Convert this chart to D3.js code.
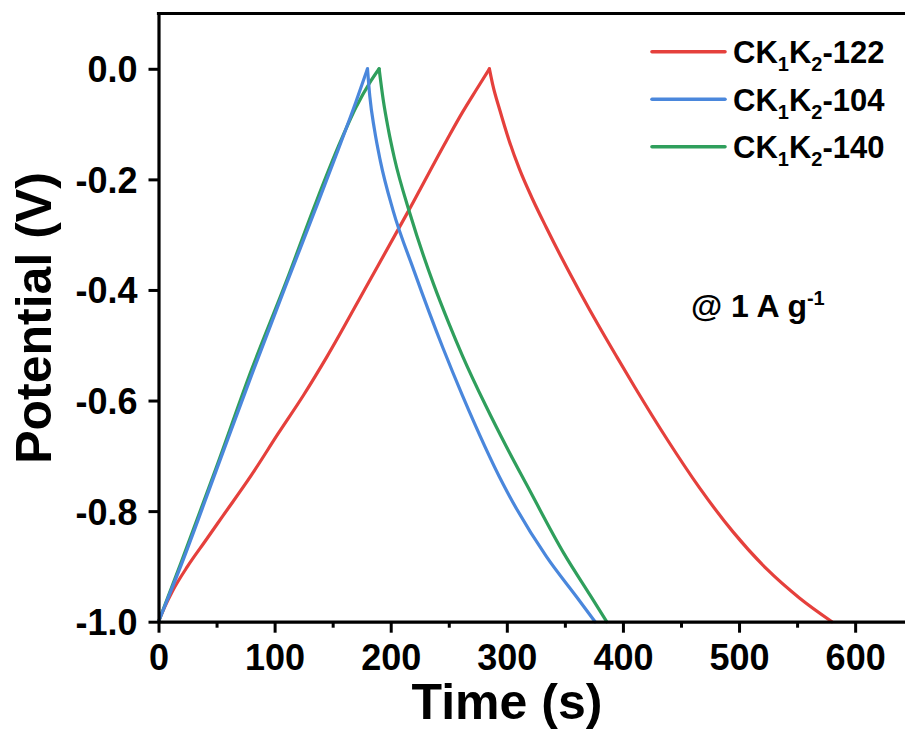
<!DOCTYPE html>
<html>
<head>
<meta charset="utf-8">
<script src="https://cdn.jsdelivr.net/npm/d3@7"></script>
<style>
  body { margin: 0; background: #fff; }
  svg { display: block; font-family: "Liberation Sans", Arial, sans-serif; font-weight: bold; }
</style>
</head>
<body>
<div id="chart"></div>
<script>
// GCD curves: [time (s), potential (V)]
var red122Charge = [[0,-1],[5,-0.975],[12,-0.945],[25,-0.9],[40,-0.855],[55,-0.81],[80,-0.735],[103,-0.66],[125,-0.59],[145,-0.521],[180,-0.39],[214,-0.262],[248,-0.13],[262,-0.078],[274,-0.037],[285,0]];
var red122Discharge = [[285,0],[288,-0.03],[294,-0.075],[302,-0.13],[311,-0.182],[322,-0.235],[334,-0.287],[348,-0.345],[363,-0.404],[380,-0.468],[395,-0.522],[410,-0.575],[438,-0.67],[466,-0.758],[495,-0.838],[524,-0.905],[552,-0.957],[580,-1]];
var blue104Charge = [[0,-1],[20,-0.895],[50,-0.725],[80,-0.555],[110,-0.39],[135,-0.255],[155,-0.145],[170,-0.06],[180,0]];
var blue104Discharge = [[180,0],[182,-0.05],[186,-0.11],[191,-0.166],[202,-0.256],[220,-0.365],[245,-0.505],[262,-0.592],[297,-0.752],[334,-0.882],[360,-0.955],[376,-1]];
var green140Charge = [[0,-1],[20,-0.89],[50,-0.72],[80,-0.545],[110,-0.385],[135,-0.245],[155,-0.14],[170,-0.07],[182,-0.025],[190,0]];
var green140Discharge = [[190,0],[193.6,-0.057],[198,-0.11],[203,-0.16],[217,-0.265],[237,-0.39],[250,-0.46],[262,-0.52],[282,-0.61],[300,-0.685],[317,-0.752],[349,-0.876],[372,-0.953],[386,-1]];

var xTicks = [0, 100, 200, 300, 400, 500, 600];
var xMinor = [50, 150, 250, 350, 450, 550];
var yTicks = [0, -0.2, -0.4, -0.6, -0.8, -1.0];

var series = [
  {name: "122", color: "#e5403c", parts: [red122Charge, red122Discharge]},
  {name: "104", color: "#4a87dc", parts: [blue104Charge, blue104Discharge]},
  {name: "140", color: "#2f9f5c", parts: [green140Charge, green140Discharge]}
];
var drawOrder = [0, 2, 1];

var W = 905, H = 733;
var plotLeft = 158.5, plotRight = 913.2, plotTop = 13.5, plotBottom = 621.7;

var x = d3.scaleLinear().domain([0, 650]).range([plotLeft, plotRight]);
var y = d3.scaleLinear().domain([-1, 0.1]).range([plotBottom, plotTop]);

var svg = d3.select("#chart").append("svg")
  .attr("width", W).attr("height", H)
  .style("overflow", "hidden");

var line = d3.line()
  .x(function(d) { return x(d[0]); })
  .y(function(d) { return y(d[1]); })
  .curve(d3.curveMonotoneX);

drawOrder.forEach(function(i) {
  var s = series[i];
  s.parts.forEach(function(p) {
    svg.append("path")
      .attr("d", line(p))
      .attr("fill", "none")
      .attr("stroke", s.color)
      .attr("stroke-width", 3.2)
      .attr("stroke-linejoin", "round")
      .attr("stroke-linecap", "round");
  });
});

// axes
var xAxis = svg.append("g")
  .attr("transform", "translate(0," + plotBottom + ")")
  .call(d3.axisBottom(x).tickValues(xTicks).tickSize(11).tickSizeOuter(0).tickPadding(12)
    .tickFormat(d3.format("d")));
var xMinorAxis = svg.append("g")
  .attr("transform", "translate(0," + plotBottom + ")")
  .call(d3.axisBottom(x).tickValues(xMinor).tickSize(6).tickSizeOuter(0).tickFormat(""));
xMinorAxis.select(".domain").remove();

var yAxis = svg.append("g")
  .attr("transform", "translate(" + plotLeft + ",0)")
  .call(d3.axisLeft(y).tickValues(yTicks).tickSize(10).tickSizeOuter(0).tickPadding(11)
    .tickFormat(function(d) { return d3.format(".1f")(d).replace("−", "-"); }));

[xAxis, xMinorAxis, yAxis].forEach(function(g) {
  g.selectAll("line").attr("stroke", "#000").attr("stroke-width", 3);
  g.selectAll(".domain").attr("stroke", "#000").attr("stroke-width", 3.2);
  g.selectAll("text").attr("fill", "#000")
    .style("font-size", "36px").style("font-weight", "bold")
    .style("font-family", "'Liberation Sans', Arial, sans-serif");
});
yAxis.selectAll("text").attr("dy", "0.36em");

// top frame line
svg.append("line")
  .attr("x1", plotLeft - 1.6).attr("x2", W)
  .attr("y1", plotTop).attr("y2", plotTop)
  .attr("stroke", "#000").attr("stroke-width", 3.2);

// axis titles
svg.append("text")
  .attr("x", 507).attr("y", 719)
  .attr("text-anchor", "middle")
  .style("font-size", "50px")
  .text("Time (s)");

svg.append("text")
  .attr("transform", "translate(51,318) rotate(-90)")
  .attr("text-anchor", "middle")
  .style("font-size", "50px")
  .text("Potential (V)");

// legend
var legendY = [51.7, 99.3, 146.7];
series.forEach(function(s, i) {
  svg.append("line")
    .attr("x1", 652).attr("x2", 725)
    .attr("y1", legendY[i]).attr("y2", legendY[i])
    .attr("stroke", s.color).attr("stroke-width", 3.6)
    .attr("stroke-linecap", "round");
  var t = svg.append("text")
    .attr("x", 733).attr("y", legendY[i] + 11.5)
    .style("font-size", "31px");
  t.append("tspan").text("CK");
  t.append("tspan").attr("dy", 8).style("font-size", "20px").text("1");
  t.append("tspan").attr("dy", -8).text("K");
  t.append("tspan").attr("dy", 8).style("font-size", "20px").text("2");
  t.append("tspan").attr("dy", -8).text("-" + s.name);
});

// current density note
var note = svg.append("text")
  .attr("x", 691).attr("y", 317)
  .style("font-size", "32px");
note.append("tspan").text("@ 1 A g");
note.append("tspan").attr("dy", -12).style("font-size", "20px").text("-1");
</script>
</body>
</html>
